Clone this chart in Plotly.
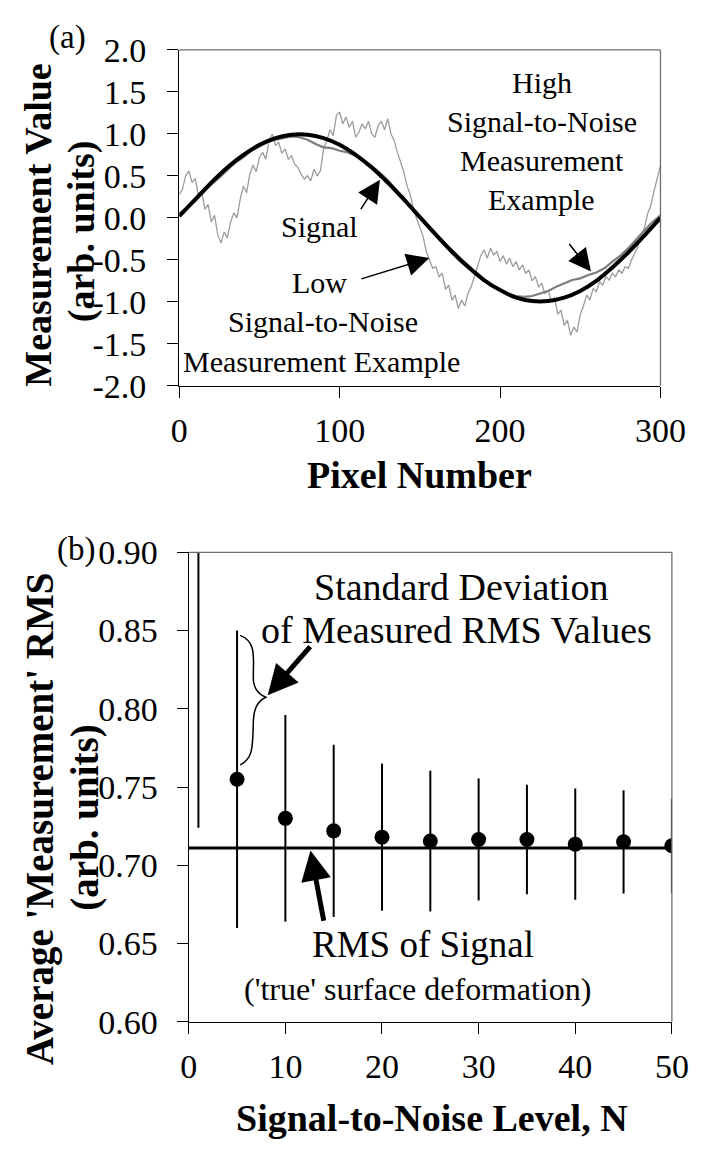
import plotly.graph_objects as go

# ---------------- Panel (a) data ----------------
pixel_signal = list(range(0, 301, 10))
signal = [0.02, 0.22, 0.42, 0.60, 0.75, 0.87, 0.95, 0.99, 0.99, 0.95,
          0.87, 0.75, 0.60, 0.42, 0.22, 0.01, -0.20, -0.40, -0.58, -0.74,
          -0.86, -0.95, -0.99, -0.99, -0.95, -0.87, -0.75, -0.59, -0.41, -0.21,
          0.00]

pixel_high = list(range(0, 301, 5))
high_snr = [0.05, 0.12, 0.20, 0.30, 0.40, 0.48, 0.57, 0.66, 0.72, 0.80,
            0.85, 0.90, 0.93, 0.95, 0.97, 0.96, 0.93, 0.88, 0.84, 0.83,
            0.80, 0.78, 0.74, 0.68, 0.62, 0.54, 0.45, 0.34, 0.24, 0.12,
            0.02, -0.10, -0.20, -0.31, -0.42, -0.52, -0.60, -0.68, -0.75, -0.81,
            -0.86, -0.90, -0.93, -0.94, -0.93, -0.90, -0.87, -0.82, -0.78, -0.74,
            -0.72, -0.68, -0.65, -0.60, -0.52, -0.45, -0.36, -0.25, -0.15, -0.05,
            0.03]

pixel_low = list(range(0, 301, 2))
low_snr = [0.28, 0.34, 0.50, 0.56, 0.42, 0.47, 0.26, 0.31, 0.10, 0.16,
           -0.05, 0.03, -0.20, -0.30, -0.17, -0.24, -0.05, 0.06, 0.00, 0.22,
           0.38, 0.30, 0.52, 0.63, 0.55, 0.72, 0.78, 0.70, 0.92, 1.00,
           0.86, 0.90, 0.77, 0.82, 0.70, 0.74, 0.64, 0.60, 0.52, 0.46,
           0.50, 0.44, 0.58, 0.50, 0.56, 0.82, 0.92, 1.05, 0.98, 1.22,
           1.26, 1.12, 1.20, 1.08, 1.15, 0.96, 1.02, 1.12, 1.06, 1.15,
           1.00, 0.96, 1.10, 1.15, 1.05, 1.18, 1.00, 0.92, 0.78, 0.65,
           0.55, 0.38, 0.28, 0.10, 0.00, -0.12, -0.22, -0.40, -0.50, -0.60,
           -0.58, -0.70, -0.66, -0.85, -0.80, -0.98, -0.92, -1.08, -0.98, -1.05,
           -0.90, -0.82, -0.70, -0.58, -0.45, -0.38, -0.48, -0.36, -0.44, -0.40,
           -0.52, -0.45, -0.55, -0.48, -0.58, -0.52, -0.62, -0.56, -0.66, -0.62,
           -0.75, -0.70, -0.82, -0.78, -0.90, -0.86, -1.00, -0.95, -1.15, -1.10,
           -1.28, -1.22, -1.40, -1.30, -1.36, -1.15, -1.05, -0.92, -0.98, -0.84,
           -0.88, -0.76, -0.80, -0.70, -0.74, -0.66, -0.70, -0.62, -0.66, -0.58,
           -0.60, -0.50, -0.42, -0.34, -0.22, -0.12, 0.05, 0.15, 0.32, 0.48,
           0.62]

a_xticks = [0, 100, 200, 300]
a_yticks = [-2.0, -1.5, -1.0, -0.5, 0.0, 0.5, 1.0, 1.5, 2.0]
a_yticktext = ["-2.0", "-1.5", "-1.0", "-0.5", "0.0", "0.5", "1.0", "1.5", "2.0"]

# ---------------- Panel (b) data ----------------
snr_level = [1, 5, 10, 15, 20, 25, 30, 35, 40, 45, 50]
avg_rms = [1.000, 0.755, 0.730, 0.722, 0.718, 0.7155, 0.7165, 0.7165, 0.7135, 0.7150, 0.7125]
std_rms = [0.276, 0.095, 0.066, 0.055, 0.047, 0.045, 0.039, 0.035, 0.0355, 0.033, 0.030]
rms_signal = 0.711
b_xticks = [0, 10, 20, 30, 40, 50]
b_yticks = [0.60, 0.65, 0.70, 0.75, 0.80, 0.85, 0.90]
b_yticktext = ["0.60", "0.65", "0.70", "0.75", "0.80", "0.85", "0.90"]

W, H = 715, 1155
FONT = "Liberation Serif, Times New Roman, serif"


def px(x):
    return x / W


def py(y):
    return 1 - y / H


fig = go.Figure()

fig.add_trace(go.Scatter(x=pixel_low, y=low_snr, mode="lines",
                         line=dict(color="#9c9c9c", width=1.3),
                         xaxis="x", yaxis="y", showlegend=False))
fig.add_trace(go.Scatter(x=pixel_high, y=high_snr, mode="lines",
                         line=dict(color="#7d7d7d", width=2.2),
                         xaxis="x", yaxis="y", showlegend=False))
fig.add_trace(go.Scatter(x=pixel_signal, y=signal, mode="lines",
                         line=dict(color="black", width=4, shape="spline"),
                         xaxis="x", yaxis="y", showlegend=False))

fig.add_trace(go.Scatter(x=[b_xticks[0], b_xticks[-1]], y=[rms_signal, rms_signal],
                         mode="lines", line=dict(color="black", width=3),
                         xaxis="x2", yaxis="y2", showlegend=False))
fig.add_trace(go.Scatter(x=snr_level, y=avg_rms, mode="markers",
                         marker=dict(color="black", size=15),
                         error_y=dict(type="data", array=std_rms, visible=True,
                                      color="black", thickness=2, width=0),
                         xaxis="x2", yaxis="y2", showlegend=False))

axis_common = dict(showgrid=False, zeroline=False, showline=True, mirror=False,
                   linecolor="black", linewidth=1.3, ticks="outside", ticklen=11,
                   tickwidth=1.2, tickcolor="black",
                   tickfont=dict(family=FONT, size=34, color="black"))

fig.update_layout(
    width=W, height=H,
    margin=dict(l=0, r=0, t=0, b=0),
    paper_bgcolor="white", plot_bgcolor="white",
    xaxis=dict(domain=[px(179), px(685)], range=[0, 300], tickvals=a_xticks,
               anchor="y", ticklabelstandoff=3, **axis_common),
    yaxis=dict(domain=[py(380), py(33)], range=[-2, 2], tickvals=a_yticks,
               ticktext=a_yticktext, anchor="x", ticklabelstandoff=14, **axis_common),
    xaxis2=dict(domain=[px(189), px(697)], range=[0, 50], tickvals=b_xticks,
                anchor="y2", ticklabelstandoff=3, **axis_common),
    yaxis2=dict(domain=[py(1037), py(552)], range=[0.6, 0.9], tickvals=b_yticks,
                ticktext=b_yticktext, anchor="x2", ticklabelstandoff=12, **axis_common),
)

# grey top / right frame lines
for xr, yr in (("x", "y"), ("x2", "y2")):
    fig.add_shape(type="line", xref=xr + " domain", yref=yr + " domain",
                  x0=0, x1=1, y0=1, y1=1, line=dict(color="#6e6e6e", width=1.3))
    fig.add_shape(type="line", xref=xr + " domain", yref=yr + " domain",
                  x0=1, x1=1, y0=0, y1=1, line=dict(color="#6e6e6e", width=1.3))

ann = []


def text(x, y, s, size, bold=False, angle=0):
    ann.append(dict(x=px(x), y=py(y), xref="paper", yref="paper",
                    text=("<b>%s</b>" % s) if bold else s, showarrow=False,
                    xanchor="center", yanchor="middle", textangle=angle,
                    font=dict(family=FONT, size=size, color="black")))


# panel labels
text(62, 20, "(a)", 33)
text(70, 549, "(b)", 33)

# axis titles
text(31, 214, "Measurement Value", 38, bold=True, angle=-90)
text(77, 220, "(arb. units)", 38, bold=True, angle=-90)
text(432, 472, "Pixel Number", 38, bold=True)
text(32, 827, "Average 'Measurement' RMS", 39, bold=True, angle=-90)
text(79, 826, "(arb. units)", 39, bold=True, angle=-90)
text(445, 1136, "Signal-to-Noise Level, N", 38, bold=True)

# panel (a) annotations
for i, s in enumerate(["High", "Signal-to-Noise", "Measurement", "Example"]):
    text(560, 67 + 40 * i, s, 30)
text(327, 215, "Signal", 30)
text(327, 273, "Low", 30)
text(330, 314, "Signal-to-Noise", 30)
text(329, 355, "Measurement Example", 30)

# panel (b) annotations
text(475, 588, "Standard Deviation", 38)
text(471, 632, "of Measured RMS Values", 38)
text(435, 957, "RMS of Signal", 37)
text(430, 1003, "('true' surface deformation)", 32)


def arrow(x, y, ax, ay, xr, yr, width, size):
    ann.append(dict(x=x, y=y, ax=ax, ay=ay, xref=xr, yref=yr, axref=xr, ayref=yr,
                    text="", showarrow=True, arrowhead=2, arrowsize=size,
                    arrowwidth=width, arrowcolor="black"))


arrow(125.1, 0.455, 112.6, 0.087, "x", "y", 1.5, 3)
arrow(155.9, -0.478, 112.6, -0.732, "x", "y", 1.5, 3)
arrow(256.7, -0.640, 242.4, -0.294, "x", "y", 1.5, 3)
arrow(8.17, 0.8086, 12.7, 0.8407, "x2", "y2", 5, 1.2)
arrow(12.6, 0.7095, 14.0, 0.6636, "x2", "y2", 5, 1.2)

fig.update_layout(annotations=ann)

# curly brace next to the N=5 error bar
brace = ("M 5.315,0.8469 C 7.185,0.8426 6.594,0.8302 6.693,0.8179 "
         "C 6.791,0.8117 7.480,0.8086 7.972,0.8074 "
         "C 7.185,0.8049 6.791,0.8012 6.693,0.7932 "
         "C 6.594,0.7778 6.791,0.7685 5.315,0.7642")
fig.add_shape(type="path", path=brace, xref="x2", yref="y2",
              line=dict(color="black", width=1.5))

fig.write_html("out.html", config={"displayModeBar": False},
               post_script="document.body.style.margin='0px';")
